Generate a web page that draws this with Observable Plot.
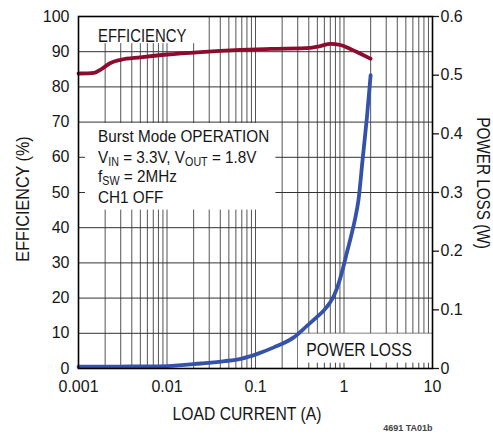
<!DOCTYPE html>
<html>
<head>
<meta charset="utf-8">
<script src="https://cdn.jsdelivr.net/npm/d3@7"></script>
<script src="https://cdn.jsdelivr.net/npm/@observablehq/plot@0.6"></script>
<style>
  html, body { margin: 0; padding: 0; background: #fff; }
</style>
</head>
<body>
<div id="chart"></div>
<script>
// Efficiency vs load current (Burst Mode, VIN = 3.3V, VOUT = 1.8V)
const efficiencyCurrent = [0.001, 0.0015, 0.0018, 0.0023, 0.003, 0.005, 0.01, 0.024, 0.068, 0.15, 0.42, 0.54, 0.70, 0.91, 1.18, 1.54, 2.0];
const efficiencyPct     = [83.8, 84.0, 85.0, 86.8, 87.7, 88.4, 89.2, 89.9, 90.5, 90.8, 91.1, 91.6, 92.2, 91.9, 90.8, 89.4, 88.0];

// Power loss vs load current
const lossCurrent = [0.001, 0.003, 0.01, 0.024, 0.045, 0.068, 0.105, 0.161, 0.271, 0.384, 0.489, 0.591, 0.686, 0.781, 0.878, 0.974, 1.08, 1.20, 1.33, 1.46, 1.62, 1.81, 2.0];
const lossWatts   = [0.003, 0.0033, 0.0042, 0.0085, 0.0125, 0.0165, 0.025, 0.036, 0.053, 0.073, 0.087, 0.099, 0.111, 0.126, 0.147, 0.171, 0.198, 0.225, 0.254, 0.288, 0.355, 0.426, 0.500];

// Axis ticks
const currentTicks = [0.001, 0.01, 0.1, 1, 10];
const efficiencyTicks = [0, 10, 20, 30, 40, 50, 60, 70, 80, 90, 100];
const lossTicks = [0, 0.1, 0.2, 0.3, 0.4, 0.5, 0.6];
const LOSS_MAX = 0.6;

// Text
const xTitle = "LOAD CURRENT (A)";
const yTitle = "EFFICIENCY (%)";
const y2Title = "POWER LOSS (W)";
const effLabel = "EFFICIENCY";
const lossLabel = "POWER LOSS";
const figureId = "4691 TA01b";
// each line is a list of [text, isSubscript] pieces
const noteLines = [
  [["Burst Mode OPERATION", false]],
  [["V", false], ["IN", true], [" = 3.3V, V", false], ["OUT", true], [" = 1.8V", false]],
  [["f", false], ["SW", true], [" = 2MHz", false]],
  [["CH1 OFF", false]]
];

const SANS = "'Liberation Sans', Arial, Helvetica, sans-serif";
const INK = "#161616";

// log-decade grid positions (2..9 and the decade lines inside the frame)
const gridX = [];
for (const decade of [0.001, 0.01, 0.1, 1]) {
  for (let m = 1; m <= 9; m++) {
    const v = +(decade * m).toPrecision(3);
    if (v > 0.001) gridX.push(v);
  }
}
const toLeftScale = (w) => (w / LOSS_MAX) * 100;

const plot = Plot.plot({
  width: 493,
  height: 434,
  marginLeft: 78,
  marginRight: 61,
  marginTop: 16,
  marginBottom: 66,
  style: { fontFamily: SANS, fontSize: "16px", color: INK, background: "#fff", overflow: "visible" },
  x: { type: "log", domain: [0.001, 10] },
  y: { domain: [0, 100] },
  marks: [
    // grid
    Plot.ruleX(gridX, { stroke: "#555", strokeWidth: 1 }),
    Plot.ruleY(efficiencyTicks.filter(d => d > 0 && d < 100), { stroke: "#333", strokeWidth: 1 }),

    // white panels behind the labels
    Plot.rect([0], { x1: 0.001, x2: 0.025, y1: 92.3, y2: 100, fill: "#fff" }),
    Plot.rect([0], { x1: 0.001, x2: 0.17, y1: 45, y2: 69.6, fill: "#fff" }),
    Plot.rect([0], { x1: 0.306, x2: 10, y1: 0, y2: 9.8, fill: "#fff" }),

    // tick stubs that stay visible inside the panels
    Plot.ruleY([50, 60], { x1: 0.001, x2: 0.0012, stroke: "#333", strokeWidth: 1 }),
    Plot.ruleX(gridX.filter(v => v > 0.31), { y1: 0, y2: 1.5, stroke: "#444", strokeWidth: 1 }),

    // curves
    Plot.line(d3.range(efficiencyCurrent.length), {
      x: i => efficiencyCurrent[i], y: i => efficiencyPct[i],
      curve: "monotone-x", stroke: "#8c0b2e", strokeWidth: 3.8
    }),
    Plot.line(d3.range(lossCurrent.length), {
      x: i => lossCurrent[i], y: i => toLeftScale(lossWatts[i]),
      curve: "monotone-x", stroke: "#3552aa", strokeWidth: 3.8
    }),

    // axes
    Plot.axisX(currentTicks, { tickSize: 0, tickPadding: 12, tickFormat: d => String(d), label: null }),
    Plot.axisY(efficiencyTicks, { anchor: "left", tickSize: 0, tickPadding: 9, label: null }),
    Plot.axisY(lossTicks.map(toLeftScale), {
      anchor: "right", tickSize: 6, tickPadding: 2, label: null, stroke: INK, strokeWidth: 1.3,
      tickFormat: d => { const w = Math.round((d * LOSS_MAX / 100) * 10) / 10; return w === 0 ? "0" : String(w); }
    }),
    Plot.frame({ stroke: "#000", strokeWidth: 1.6 }),

    Plot.text([figureId], { frameAnchor: "bottom-right", dy: 62.5, text: d => d, textAnchor: "end", fontFamily: SANS, fontWeight: "bold", fontSize: 9, fill: "#444" })
  ]
});

document.getElementById("chart").appendChild(plot);

// Condensed labels: Liberation Sans squeezed horizontally, positioned through the plot scales
const sx = plot.scale("x"), sy = plot.scale("y");
const X = v => sx.apply(v), Y = v => sy.apply(v);
const layer = d3.select(plot).append("g").attr("font-family", SANS).attr("fill", INK);

function label(lines, x, y, { size = 18, anchor = "start", rotate = 0, squeeze = 0.85, baselines = [0] } = {}) {
  const g = layer.append("g")
    .attr("transform", `translate(${x},${y}) rotate(${rotate}) scale(${squeeze},1)`);
  const t = g.append("text").attr("font-size", size).attr("text-anchor", anchor);
  lines.forEach((segs, i) => {
    let shifted = false;
    segs.forEach(([s, sub], j) => {
      const span = t.append("tspan").text(s);
      if (j === 0) span.attr("x", 0).attr("y", baselines[i]);
      if (sub) {
        span.attr("font-size", size * 0.7);
        if (!shifted) { span.attr("dy", 3.5); shifted = true; }
      } else if (shifted) {
        span.attr("dy", -3.5); shifted = false;
      }
    });
  });
}

const one = s => [[[s, false]]];
label(one(effLabel), X(0.001) + 20, Y(100) + 25.5, { size: 17.5 });
label(noteLines, X(0.001) + 20, Y(70) + 20, { size: 17, squeeze: 0.9, baselines: [0, 21, 40, 61] });
label(one(lossLabel), X(10) - 20, Y(0) - 12.5, { size: 18.5, anchor: "end" });
label(one(xTitle), (X(0.001) + X(10)) / 2 - 8, Y(0) + 52, { size: 18.5, anchor: "middle" });
label(one(yTitle), 29, 199, { size: 19, anchor: "middle", rotate: -90 });
label(one(y2Title), 477, 183, { size: 18, anchor: "middle", rotate: 90 });
</script>
</body>
</html>
